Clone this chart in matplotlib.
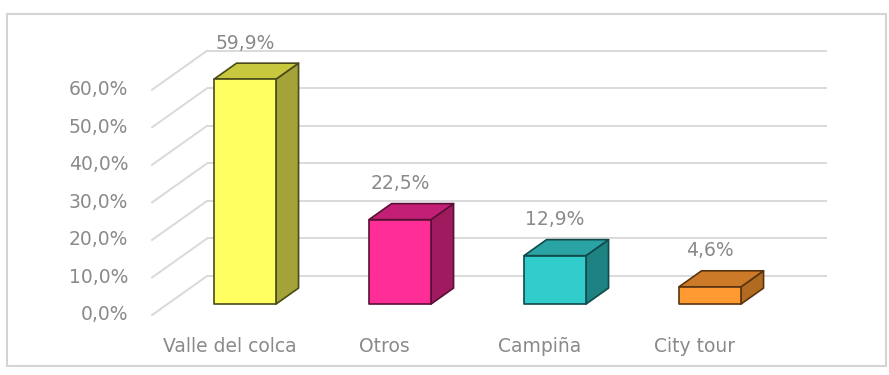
import matplotlib
matplotlib.use("Agg")
import matplotlib.pyplot as plt
from matplotlib.patches import Polygon, Rectangle

# Data
categories = ["Valle del colca", "Otros", "Campiña", "City tour"]
values = [59.9, 22.5, 12.9, 4.6]
value_labels = ["59,9%", "22,5%", "12,9%", "4,6%"]
y_ticks = [0, 10, 20, 30, 40, 50, 60]
y_tick_labels = ["0,0%", "10,0%", "20,0%", "30,0%", "40,0%", "50,0%", "60,0%"]

# Face colours per bar: front, top, side, outline
front_colors = ["#FFFF62", "#FF2D96", "#33CCCC", "#FF9A33"]
top_colors = ["#C8C83E", "#C41F77", "#29A3A3", "#CC7A27"]
side_colors = ["#A3A33A", "#A01A60", "#1F8282", "#B06A22"]
edge_colors = ["#4A4A18", "#5A0F35", "#104A4A", "#5A3410"]

W, H = 889, 375
fig = plt.figure(figsize=(W / 100, H / 100), dpi=100)
fig.patch.set_facecolor("white")
ax = fig.add_axes([0, 0, 1, 1])
ax.set_axis_off()

# Scale: pixels per category step and per percentage point on the back wall
px_per_cat = 155.0
px_per_pct = 3.755
x0_px = 284.6      # pixel x of the first category on the back wall
y0_px = 276.0      # pixel y of 0 % on the back wall (from top)
ax.set_xlim(-x0_px / px_per_cat, (W - x0_px) / px_per_cat)
ax.set_ylim((y0_px - H) / px_per_pct, y0_px / px_per_pct)

# Oblique projection of the depth axis (depth 0 = back wall, 1 = front)
depth_dx = -55.0 / px_per_cat
depth_dy = -39.0 / px_per_pct


def off(d):
    return depth_dx * d, depth_dy * d


font = "DejaVu Sans"
fsize = 13.5
text_color = "#8A8A8A"
grid_color = "#D9D9D9"

# Walls: back gridlines and side-wall diagonals
x_left, x_right = -0.5, len(categories) - 0.5
fx, fy = off(1.0)
for t, lab in zip(y_ticks, y_tick_labels):
    ax.plot([x_left, x_right], [t, t], color=grid_color, lw=1.4, zorder=1,
            solid_capstyle="butt")
    ax.plot([x_left + fx, x_left], [t + fy, t], color=grid_color, lw=1.4,
            zorder=1)
    ax.annotate(lab, xy=(x_left + fx, t + fy), xytext=(-24, 0),
                textcoords="offset pixels", ha="right", va="center",
                fontsize=fsize, color=text_color, family=font)

# 3D columns
half_w = 0.2
d_front, d_back = 0.72, 0.31
ox1, oy1 = off(d_front)
ox0, oy0 = off(d_back)
for i, v in enumerate(values):
    xl, xr = i - half_w, i + half_w
    side = [(xr + ox1, oy1), (xr + ox1, v + oy1), (xr + ox0, v + oy0),
            (xr + ox0, oy0)]
    top = [(xl + ox1, v + oy1), (xr + ox1, v + oy1), (xr + ox0, v + oy0),
           (xl + ox0, v + oy0)]
    front = [(xl + ox1, oy1), (xr + ox1, oy1), (xr + ox1, v + oy1),
             (xl + ox1, v + oy1)]
    for pts, col in ((side, side_colors[i]), (top, top_colors[i]),
                     (front, front_colors[i])):
        ax.add_patch(Polygon(pts, closed=True, facecolor=col,
                             edgecolor=edge_colors[i], lw=1.2, zorder=3,
                             joinstyle="round"))
    ax.annotate(value_labels[i], xy=(i + ox1, v + oy1), xytext=(0, 36),
                textcoords="offset pixels", ha="center", va="center",
                fontsize=fsize, color=text_color, family=font)
    ax.annotate(categories[i], xy=(i + fx, fy), xytext=(0, -32),
                textcoords="offset pixels", ha="center", va="center",
                fontsize=fsize, color=text_color, family=font)

# Chart frame
fig.patches.append(Rectangle((7 / W, 1 - 366 / H), (886 - 7) / W,
                             (366 - 14) / H, transform=fig.transFigure,
                             fill=False, edgecolor="#D4D4D4", lw=1.5))

fig.savefig("out.png", dpi=100, facecolor="white")
